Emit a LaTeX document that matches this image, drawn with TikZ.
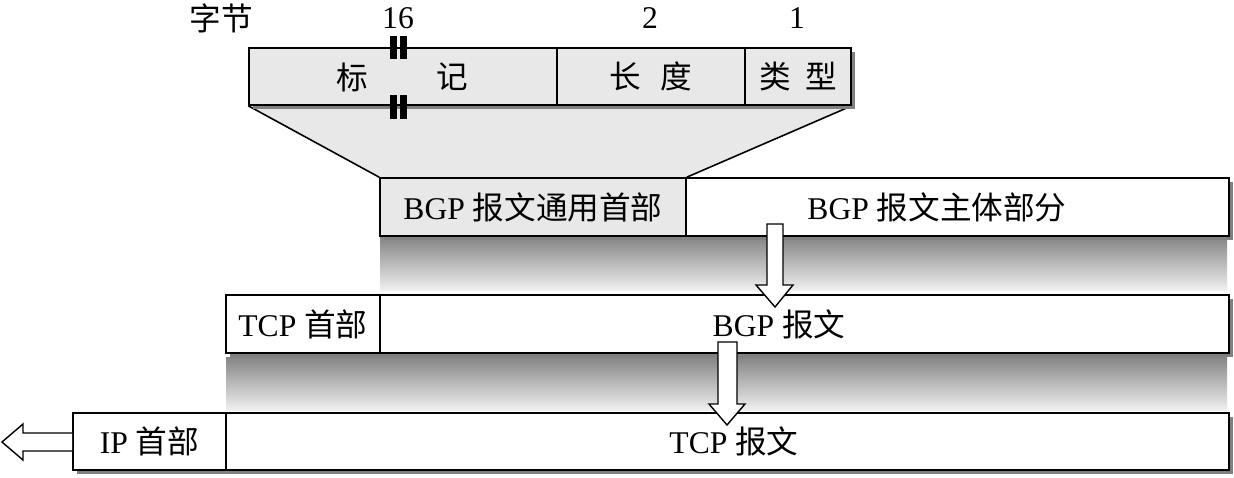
\documentclass[tikz,border=0pt]{standalone}
\usepackage{fontspec}
\setmainfont{Liberation Serif}
\newfontfamily\cjk{Noto Sans CJK SC}
\usetikzlibrary{shadows,backgrounds}
\begin{document}
\begin{tikzpicture}[x=0.02cm,y=-0.02cm,
        font=\fontsize{18}{22}\selectfont,
        cell/.style={draw,line width=0.9pt,fill=white,inner sep=0pt,
            drop shadow={shadow xshift=0.08cm,shadow yshift=-0.08cm,fill=black!50,opacity=1}},
        grey/.style={fill=black!9},
        fade/.style={top color=black!48,bottom color=black!6},
        blockarrow/.style={draw,line width=0.8pt,fill=white,line join=miter}]
    \useasboundingbox (0,0) rectangle (1234,477);
    % byte counts
    \node (unit) at (221,18) {\cjk 字节};
    \node (n16) at (398,18) {16};
    \node (n2) at (650,18) {2};
    \node (n1) at (797,18) {1};
    % BGP header fields
    \node[cell,grey,minimum width=6.16cm,minimum height=1.14cm] (tag) at (403,76.5) {};
    \node[cell,grey,minimum width=3.76cm,minimum height=1.14cm] (len) at (651,76.5) {\cjk 长\hspace{0.6em}度};
    \node[cell,grey,minimum width=2.12cm,minimum height=1.14cm] (type) at (798,76.5) {\cjk 类\hspace{0.45em}型};
    \node (tagA) at (352,77) {\cjk 标};
    \node (tagB) at (452,77) {\cjk 记};
    \fill (390,36) rectangle (397,59);
    \fill (400,36) rectangle (407,59);
    \fill (390,95) rectangle (397,119);
    \fill (400,95) rectangle (407,119);
    % BGP message
    \node[cell,grey,minimum width=6.12cm,minimum height=1.16cm] (hdr) at (533,207) {BGP {\cjk 报文通用首部}};
    \node[cell,minimum width=10.86cm,minimum height=1.16cm] (body) at (957.5,207) {};
    \node (bodyT) at (937,207) {BGP {\cjk 报文主体部分}};
    % TCP segment
    \node[cell,minimum width=3.08cm,minimum height=1.16cm] (tcph) at (303,324) {TCP {\cjk 首部}};
    \node[cell,minimum width=16.98cm,minimum height=1.16cm] (bgp) at (804.5,324) {};
    \node (bgpT) at (779,324) {BGP {\cjk 报文}};
    % IP datagram
    \node[cell,minimum width=3.06cm,minimum height=1.14cm] (iph) at (149.5,441.5) {IP {\cjk 首部}};
    \node[cell,minimum width=20.06cm,minimum height=1.14cm] (tcp) at (727.5,441.5) {};
    \node (tcpT) at (734,441.5) {TCP {\cjk 报文}};
    \begin{scope}[on background layer]
        \fill[grey] (tag.south west) -- (type.south east) -- (hdr.north east) -- (hdr.north west) -- cycle;
        \draw[line width=0.9pt] (tag.south west) -- (hdr.north west);
        \draw[line width=0.9pt] (type.south east) -- (hdr.north east);
        \shade[fade] (380,237) rectangle (1227,290);
        \shade[fade] (226,357) rectangle (1227,410);
    \end{scope}
    % hollow arrows
    \draw[blockarrow] (767,224) -- (783,224) -- (783,285) -- (793,285) -- (775,307)
                      -- (756,285) -- (767,285) -- cycle;
    \draw[blockarrow] (718,342) -- (737,342) -- (737,404) -- (745,404) -- (727,425)
                      -- (709,404) -- (718,404) -- cycle;
    \draw[blockarrow] (iph.west |- 0,433) -- (23,433) -- (23,424) -- (2,442) -- (23,460)
                      -- (23,451) -- (iph.west |- 0,451);
\end{tikzpicture}
\end{document}
